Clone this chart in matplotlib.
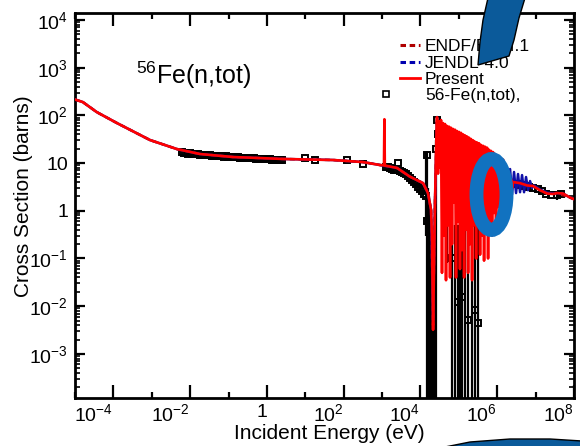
import numpy as np
import matplotlib
matplotlib.use('Agg')
import matplotlib.pyplot as plt
from matplotlib.lines import Line2D
from matplotlib.legend_handler import HandlerLine2D
from matplotlib.patches import Ellipse, Polygon
from matplotlib.ticker import LogLocator, NullFormatter

plt.rcParams['font.family'] = ['Liberation Sans', 'DejaVu Sans']
plt.rcParams['mathtext.fontset'] = 'custom'
plt.rcParams['mathtext.rm'] = 'Liberation Sans'
plt.rcParams['mathtext.it'] = 'Liberation Sans:italic'
plt.rcParams['mathtext.bf'] = 'Liberation Sans:bold'

# "Present" evaluation (red), energies in eV, cross sections in barns
E_present = [1e-5, 1.6e-5, 3.7e-5, 1.24e-4, 9.0e-4, 4.5e-3, 1.8e-2, 0.131, 2.63, 52.8, 319, 886,
             1.12e3, 1.15e3, 1.18e3, 2.45e3, 5.3e3, 1.17e4, 1.57e4, 1.89e4, 2.0e4, 2.13e4, 2.4e4, 2.55e4,
             2.70e4, 2.87e4, 3.04e4, 3.23e4, 3.43e4, 3.64e4, 3.87e4, 4.11e4, 4.36e4, 4.63e4,
             4.92e4, 5.22e4, 5.54e4, 5.89e4, 6.25e4, 6.64e4, 7.05e4, 7.48e4, 7.95e4, 8.44e4,
             8.96e4, 9.51e4, 1.01e5, 1.07e5, 1.14e5, 1.21e5, 1.29e5, 1.37e5, 1.45e5, 1.54e5,
             1.64e5, 1.74e5, 1.85e5, 1.96e5, 2.08e5, 2.21e5, 2.35e5, 2.49e5, 2.65e5, 2.81e5,
             2.98e5, 3.17e5, 3.36e5, 3.57e5, 3.79e5, 4.03e5, 4.28e5, 4.54e5, 4.82e5, 5.12e5,
             5.44e5, 5.77e5, 6.13e5, 6.51e5, 6.91e5, 7.34e5, 7.79e5, 8.27e5, 8.78e5, 9.33e5,
             9.90e5, 1.05e6, 1.12e6, 1.19e6, 1.26e6, 1.34e6, 1.42e6, 1.51e6, 1.60e6, 1.70e6,
             1.81e6, 1.92e6, 2.04e6, 2.16e6, 2.30e6, 2.44e6, 2.59e6,
             3.93e6, 5.96e6, 8.6e6, 1.3e7, 2.0e7, 2.85e7, 3.6e7, 5.2e7, 7.8e7, 1.0e8]
sig_present = [215, 190, 117, 69, 30.4, 19.7, 15.5, 13.4, 12.2, 11.6, 10.5, 9.1,
               9.0, 83, 8.9, 7.9, 5.2, 3.8, 2.35, 1.04, 0.24, 0.0032, 1.68, 20,
               92, 6, 75, 8, 80, 0.05, 69, 0.3, 66, 0.035,
               60, 0.5, 58, 0.04, 55, 0.2, 52, 1.5, 50, 0.04,
               47, 0.6, 45, 0.06, 43, 0.15, 40, 0.04, 38, 0.4,
               36, 0.05, 34, 0.2, 32, 0.035, 30, 0.5, 28, 0.1,
               27, 0.8, 26, 0.12, 24, 0.3, 23, 0.09, 22, 0.5,
               21, 0.1, 19, 0.6, 18, 0.3, 17, 0.9, 15.5, 0.5,
               14.5, 1.2, 13.5, 0.8, 12.5, 1.5, 11.8, 1.2, 9.0, 1.8,
               7.0, 2.0, 5.5, 2.6, 4.5, 3.0, 4.0,
               3.8, 3.4, 3.3, 2.7, 2.3, 2.25, 2.35, 2.3, 1.9, 1.75]

# JENDL-4.0 (blue)
E_jendl = [1e-5, 1.6e-5, 3.7e-5, 1.24e-4, 9.0e-4, 4.5e-3, 1.8e-2, 0.131, 2.63, 52.8, 319, 886,
           2.45e3, 5.3e3, 1.17e4, 1.57e4, 1.89e4, 2.13e4, 2.4e4, 2.7e4, 3.2e4, 1.0e5, 3.0e5, 6.0e5,
           6.5e5, 7.33e5, 8.26e5, 9.31e5, 1.05e6, 1.18e6, 1.34e6, 1.51e6, 1.70e6, 1.91e6, 2.16e6,
           2.43e6, 2.74e6, 3.09e6, 3.48e6, 3.93e6, 4.43e6, 5.0e6, 5.63e6, 6.35e6, 7.16e6, 8.07e6,
           9.1e6, 1.3e7, 2.0e7, 2.85e7, 3.6e7, 5.2e7, 7.8e7, 1.0e8]
sig_jendl = [215, 190, 117, 69, 30.4, 19.7, 15.5, 13.4, 12.2, 11.6, 10.5, 9.1,
             7.9, 5.2, 3.8, 2.35, 1.04, 0.005, 1.68, 92, 20, 8, 5, 4,
             14.8, 1.3, 11.6, 1.68, 10.0, 1.8, 9.1, 1.9, 8.5, 2.1, 7.5,
             2.2, 6.5, 2.35, 5.9, 2.45, 5.6, 2.45, 5.1, 2.7, 4.2, 3.0,
             3.4, 2.8, 2.4, 2.3, 2.35, 2.3, 1.9, 1.75]

# ENDF/B-VII.1 (dark red dashed)
E_endf = [1e-5, 1.6e-5, 3.7e-5, 1.24e-4, 9.0e-4, 4.5e-3, 1.8e-2, 0.131, 2.63, 52.8, 319, 886,
          2.45e3, 5.3e3, 1.17e4, 1.57e4, 1.89e4, 2.13e4, 2.4e4, 2.7e4, 3.2e4, 1.0e5, 3.0e5, 1.0e6,
          2.59e6, 3.93e6, 8.6e6, 1.3e7, 2.0e7, 3.6e7, 7.8e7, 1.0e8]
sig_endf = [215, 190, 117, 69, 30.4, 19.7, 15.5, 13.4, 12.2, 11.6, 10.5, 9.1,
            7.9, 5.2, 3.8, 2.35, 1.04, 0.004, 1.68, 92, 20, 8, 5, 5,
            4.0, 3.8, 3.3, 2.7, 2.3, 2.35, 1.9, 1.75]

# 56-Fe(n,tot) measurements: symbols
E_exp = [6.1e-3, 6.9e-3, 7.8e-3, 8.8e-3, 9.9e-3, 1.12e-2, 1.26e-2, 1.42e-2, 1.6e-2, 1.81e-2,
         2.04e-2, 2.3e-2, 2.59e-2, 2.92e-2, 3.29e-2, 3.71e-2, 4.19e-2, 4.72e-2, 5.32e-2, 6.0e-2,
         6.76e-2, 7.62e-2, 8.6e-2, 9.7e-2, 0.109, 0.123, 0.139, 0.157, 0.177, 0.199,
         0.224, 0.253, 0.285, 0.321, 0.363, 0.409, 0.461, 0.52, 0.586, 0.661,
         0.745, 0.84, 0.947, 1.07, 1.2, 1.36, 1.53, 1.73, 1.95, 2.2, 2.47,
         9.8, 17.9, 122, 316,
         1.25e3, 1.41e3, 1.59e3, 1.79e3, 2.02e3, 2.28e3, 2.6e3, 2.9e3, 3.27e3, 3.69e3, 4.16e3,
         4.69e3, 5.29e3, 5.96e3, 6.72e3, 7.58e3, 8.55e3, 9.64e3, 1.09e4, 1.23e4, 1.38e4,
         1.45e4, 1.48e4, 2.6e4, 2.75e4, 2.9e4,
         6.65e4, 9.5e4, 1.21e5, 1.74e5, 2.64e5, 3.16e5,
         2.6e6, 3.3e6, 4.2e6, 5.4e6, 6.9e6, 8.8e6, 1.12e7, 1.45e7, 1.9e7, 2.5e7, 3.6e7, 4.6e7]
sig_exp = [16.8, 16.2, 16.4, 15.8, 16.0, 15.5, 15.7, 15.2, 15.4, 15.0,
           15.1, 14.7, 14.9, 14.5, 14.6, 14.3, 14.4, 14.1, 14.2, 13.9,
           14.0, 13.7, 13.8, 13.5, 13.6, 13.3, 13.4, 13.1, 13.2, 13.0,
           13.0, 12.8, 12.8, 12.6, 12.7, 12.5, 12.5, 12.3, 12.4, 12.2,
           12.2, 12.0, 12.1, 11.9, 11.9, 11.8, 11.8, 11.7, 11.7, 11.6, 11.6,
           12.7, 11.6, 11.8, 9.6,
           8.4, 8.1, 7.8, 7.6, 7.3, 7.2, 10.0, 6.9, 6.6, 6.2, 5.8,
           5.3, 4.8, 4.4, 4.0, 3.6, 3.2, 2.9, 2.6, 2.3, 2.0,
           15, 0.6, 20, 80, 40,
           0.10, 0.012, 0.0155, 0.0051, 0.0083, 0.0045,
           3.7, 3.6, 3.5, 3.3, 3.2, 3.0, 2.8, 2.6, 2.3, 2.15, 2.1, 2.2]

# measurements with large uncertainties (error-bar extent)
E_bar = [1.40e4, 1.48e4, 1.57e4, 1.67e4, 1.77e4, 1.88e4, 2.0e4, 2.12e4, 2.25e4, 2.39e4, 2.54e4,
         4.92e4, 6.65e4, 8.0e4, 9.5e4, 1.07e5, 1.21e5, 1.45e5, 1.74e5, 2.21e5, 2.64e5, 3.16e5, 3.6e7]
lo_bar = [0.3, 1e-6, 1e-6, 1e-6, 1e-6, 1e-6, 1e-6, 1e-6, 1e-6, 1e-6, 1e-6,
          0.08, 1e-6, 1e-6, 1e-6, 1e-6, 1e-6, 1e-6, 1e-6, 1e-6, 1e-6, 1e-6, 1.7]
hi_bar = [17, 18, 3.0, 2.0, 1.0, 0.5, 0.2, 0.1, 0.3, 2.0, 30,
          1, 0.5, 0.5, 0.5, 0.5, 0.5, 0.5, 0.5, 0.5, 0.5, 0.5, 2.6]

x_ticks = [1e-4, 1e-2, 1, 1e2, 1e4, 1e6, 1e8]
x_tick_labels = ['10$^{-4}$', '10$^{-2}$', '1', '10$^{2}$', '10$^{4}$', '10$^{6}$', '10$^{8}$']
x_minor = [1e-5, 1e-3, 1e-1, 1e1, 1e3, 1e5, 1e7]
y_ticks = [1e-3, 1e-2, 1e-1, 1, 10, 1e2, 1e3, 1e4]
y_tick_labels = ['10$^{-3}$', '10$^{-2}$', '10$^{-1}$', '1', '10', '10$^{2}$', '10$^{3}$', '10$^{4}$']

W, H = 580, 446
fig = plt.figure(figsize=(W / 100, H / 100), dpi=100)
ax = fig.add_axes([75 / W, 48 / H, 499 / W, 385 / H])
ax.set_xscale('log')
ax.set_yscale('log')

# measured data
ax.vlines(E_bar, lo_bar, hi_bar, color='black', lw=1.6, zorder=2)
ax.plot(E_exp, sig_exp, ls='none', marker='s', ms=4.5, mfc='none', mec='black', mew=1.4, zorder=2)

ax.plot(E_endf, sig_endf, color='#b00000', ls=(0, (2, 1.5)), lw=1.8, zorder=3)
ax.plot(E_jendl, sig_jendl, color='#1010a8', lw=1.8, zorder=3)
ax.plot(E_present, sig_present, color='#ff0000', lw=1.9, zorder=4)

ax.set_xlim(1e-5, 1e8)
ax.set_ylim(1.19e-4, 1.4e4)

ax.set_xticks(x_ticks)
ax.set_xticklabels(x_tick_labels)
ax.set_xticks(x_minor, minor=True)
ax.xaxis.set_minor_formatter(NullFormatter())
ax.set_yticks(y_ticks)
ax.set_yticklabels(y_tick_labels)
ax.yaxis.set_minor_locator(LogLocator(base=10, subs=np.arange(2, 10), numticks=30))
ax.yaxis.set_minor_formatter(NullFormatter())
for lab in ax.get_xticklabels():
    lab.set_horizontalalignment('right')

ax.tick_params(axis='both', which='both', direction='in', top=True, right=True, labelsize=14, width=1.6)
ax.tick_params(axis='x', which='major', length=9.5, pad=4)
ax.tick_params(axis='x', which='minor', length=4)
ax.tick_params(axis='y', which='major', length=7, pad=5)
ax.tick_params(axis='y', which='minor', length=3.5, width=1.2)
for sp in ax.spines.values():
    sp.set_linewidth(2)

ax.set_xlabel('Incident Energy (eV)', fontsize=15)
ax.xaxis.set_label_coords(0.509, -0.068)
ax.set_ylabel('Cross Section (barns)', fontsize=15)
ax.yaxis.set_label_coords(-0.084, 0.525)

ax.text(0.122, 0.816, '$^{56}$Fe(n,tot)', transform=ax.transAxes, fontsize=18, va='baseline')


class MarkerLeft(HandlerLine2D):
    # put the symbol left of the line sample, as in the original legend
    def get_xdata(self, legend, xdescent, ydescent, width, height, fontsize):
        xdata, xm = super().get_xdata(legend, xdescent, ydescent, width, height, fontsize)
        xs = -xdescent - 0.8 * fontsize
        return [xs, xs], [xs]


h_endf = Line2D([], [], color='#b00000', ls=(0, (1.8, 1.2)), lw=2.2)
h_jendl = Line2D([], [], color='#0000b0', ls=(0, (1.8, 1.2)), lw=2.2)
h_pres = Line2D([], [], color='#ff0000', lw=2.0)
h_exp = Line2D([], [], ls='none', marker='s', ms=4, mfc='none', mec='black', mew=1.2)
ax.legend([h_endf, h_jendl, h_pres, h_exp],
          ['ENDF/B-VII.1', 'JENDL-4.0', 'Present', '56-Fe(n,tot),'],
          handler_map={h_exp: MarkerLeft(numpoints=1)},
          loc='upper left', bbox_to_anchor=(0.651, 0.932), frameon=False, fontsize=12.5,
          borderpad=0, borderaxespad=0, handlelength=1.15, handletextpad=0.3, labelspacing=0.07)


# blue overlay marks drawn over the figure
def px(points):
    return [(x / W, 1 - y / H) for x, y in points]


top_shape = Polygon(px([(488, -2), (525, -2), (519, 18), (514, 40), (509, 56), (478, 65), (480, 42),
                        (483, 20)]), closed=True, transform=fig.transFigure,
                    fc='#0b5a9a', ec='black', lw=1, zorder=10)
fig.add_artist(top_shape)
ring = Ellipse((491.5 / W, 1 - 194.5 / H), width=30 / W, height=71 / H, transform=fig.transFigure,
               fill=False, ec='#1172c0', lw=10, zorder=10)
fig.add_artist(ring)
swoosh = Polygon(px([(440, 448), (470, 442), (510, 439), (550, 439), (582, 441), (582, 448)]),
                 closed=True, transform=fig.transFigure, fc='#0b5a9a', ec='black', lw=1, zorder=10)
fig.add_artist(swoosh)

fig.savefig('out.png', dpi=100)
